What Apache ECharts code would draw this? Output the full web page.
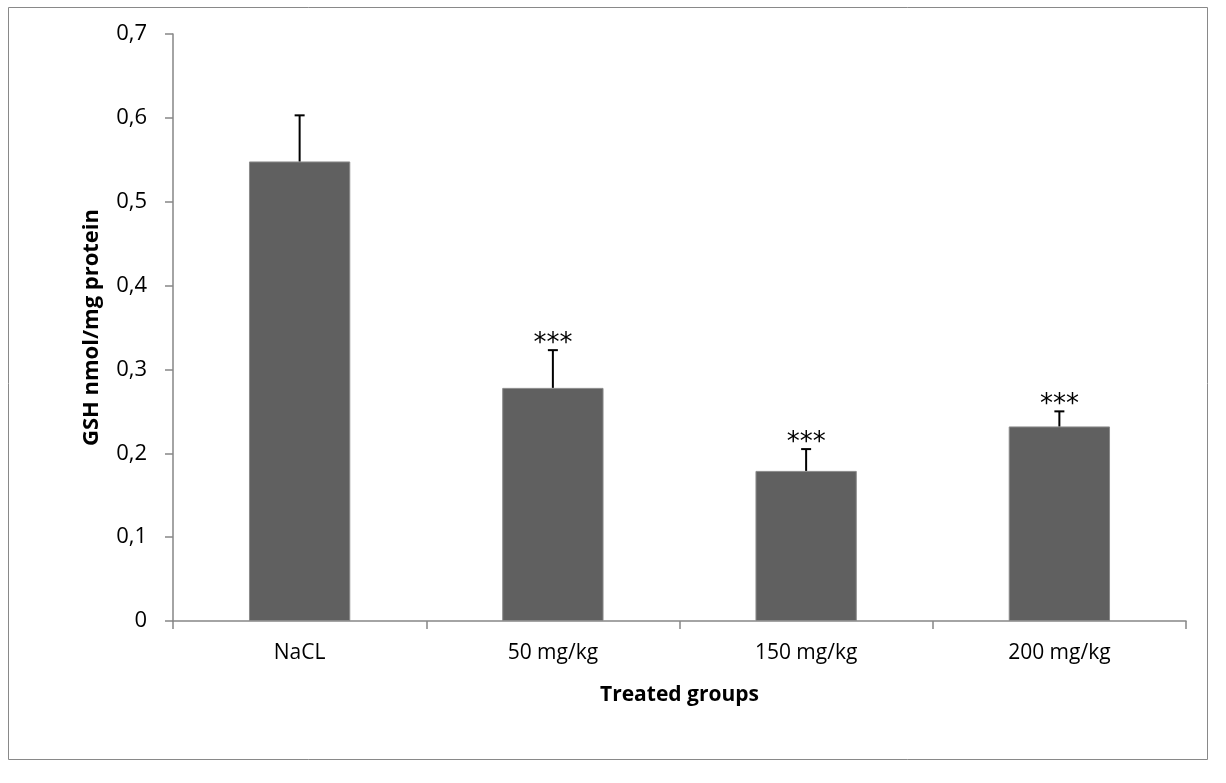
<!DOCTYPE html>
<html>
<head>
<meta charset="utf-8">
<script src="https://cdn.jsdelivr.net/npm/echarts@6/dist/echarts.min.js"></script>
<style>
  html, body { margin: 0; padding: 0; background: #fff; }
  #main { width: 1226px; height: 783px; }
</style>
</head>
<body>
<div id="main"></div>
<script>
  // values
  var groups = ['NaCL', '50 mg/kg', '150 mg/kg', '200 mg/kg'];
  var gshMeans = [0.548, 0.278, 0.179, 0.232];
  var gshErrors = [0.055, 0.045, 0.026, 0.018];
  var signif = ['', '***', '***', '***'];
  var yTicks = [0, 0.1, 0.2, 0.3, 0.4, 0.5, 0.6, 0.7];

  var font = '"Open Sans", Lato, sans-serif';
  var chart = echarts.init(document.getElementById('main'));

  var errData = gshMeans.map(function (m, i) {
    return [i, m, m + gshErrors[i], signif[i]];
  });

  var option = {
    animation: false,
    backgroundColor: '#fff',
    graphic: [{
      type: 'rect',
      shape: { x: 8.5, y: 7.5, width: 1199, height: 752 },
      style: { fill: 'none', stroke: '#898989', lineWidth: 1 }
    }],
    grid: { left: 173, right: 40, top: 34, bottom: 162 },
    xAxis: {
      type: 'category',
      data: groups,
      name: 'Treated groups',
      nameLocation: 'middle',
      nameGap: 64,
      nameTextStyle: { fontFamily: font, fontSize: 21, fontWeight: 'bold', color: '#000' },
      axisLine: { lineStyle: { color: '#868686', width: 1.5 } },
      axisTick: { show: true, length: 8, alignWithLabel: false, lineStyle: { color: '#868686', width: 1.5 } },
      axisLabel: { fontFamily: font, fontSize: 21, color: '#000', margin: 22 }
    },
    yAxis: {
      type: 'value',
      min: yTicks[0],
      max: yTicks[yTicks.length - 1],
      interval: 0.1,
      name: 'GSH nmol/mg protein',
      nameLocation: 'middle',
      nameGap: 70,
      nameRotate: 90,
      nameTextStyle: { fontFamily: font, fontSize: 22, fontWeight: 'bold', color: '#000' },
      splitLine: { show: false },
      axisLine: { show: true, lineStyle: { color: '#868686', width: 1.5 } },
      axisTick: { show: true, length: 8, lineStyle: { color: '#868686', width: 1.5 } },
      axisLabel: {
        fontFamily: font, fontSize: 22, color: '#000', margin: 26,
        formatter: function (v) { return String(Math.round(v * 10) / 10).replace('.', ','); }
      }
    },
    series: [{
      type: 'bar',
      data: gshMeans,
      barWidth: '40%',
      itemStyle: { color: '#606060', borderColor: '#8a8a8a', borderWidth: 1 }
    }, {
      type: 'custom',
      data: errData,
      z: 5,
      renderItem: function (params, api) {
        var x = api.value(0);
        var base = api.coord([x, api.value(1)]);
        var top = api.coord([x, api.value(2)]);
        var cap = 5;
        var children = [
          { type: 'line', shape: { x1: base[0], y1: base[1], x2: top[0], y2: top[1] },
            style: { stroke: '#000', lineWidth: 2 } },
          { type: 'line', shape: { x1: top[0] - cap, y1: top[1], x2: top[0] + cap, y2: top[1] },
            style: { stroke: '#000', lineWidth: 2 } }
        ];
        var star = api.value(3);
        if (star) {
          children.push({
            type: 'text',
            style: {
              text: star, x: top[0], y: top[1] + 7,
              align: 'center', verticalAlign: 'bottom',
              font: '26px "DejaVu Sans", sans-serif', fill: '#000'
            }
          });
        }
        return { type: 'group', children: children };
      }
    }]
  };

  chart.setOption(option);
</script>
</body>
</html>
